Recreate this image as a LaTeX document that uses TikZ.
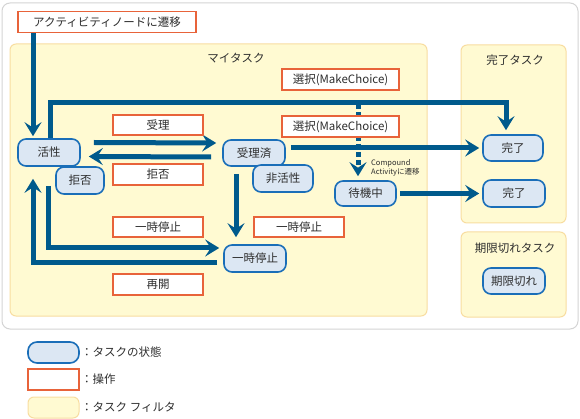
\documentclass[tikz,border=0pt]{standalone}
\usepackage{fontspec}
\setmainfont{Noto Sans CJK JP}
\usetikzlibrary{arrows.meta,calc}
\definecolor{arrowc}{HTML}{005A8C}
\definecolor{stfill}{HTML}{DCE7F3}
\definecolor{stdraw}{HTML}{1A6EB8}
\definecolor{opdraw}{HTML}{E8633A}
\definecolor{yfill}{HTML}{FFFAD2}
\definecolor{ydraw}{HTML}{F8DDA0}
\definecolor{gdraw}{HTML}{D4D4D4}
\definecolor{txt}{HTML}{2E2E2E}
\begin{document}
\begin{tikzpicture}[x=1pt,y=-1pt,
 every node/.style={text=txt},
 state/.style={draw=stdraw,fill=stfill,line width=1.6pt,rounded corners=8pt,minimum height=26pt,minimum width=62pt,inner sep=0pt,font=\fontsize{11.5}{12}\selectfont},
 op/.style={draw=opdraw,fill=white,line width=1.6pt,minimum height=20pt,minimum width=90pt,inner sep=0pt,font=\fontsize{11.5}{12}\selectfont},
 area/.style={draw=ydraw,fill=yfill,line width=1pt,rounded corners=6pt},
 arealabel/.style={font=\fontsize{11.5}{12}\selectfont,inner sep=0pt},
 flow/.style={draw=arrowc,line width=5pt,-{Stealth[length=14pt,width=17pt,inset=5.5pt]}},
 legtext/.style={font=\fontsize{11.5}{12}\selectfont,inner sep=0pt,anchor=west},
 ]
\useasboundingbox (0,0) rectangle (580,419);
% backgrounds
\draw[gdraw,fill=white,line width=1pt,rounded corners=8pt] (2,3) rectangle (578,329);
\draw[area] (10,44) rectangle (427,316);
\draw[area] (461,45) rectangle (566,223);
\draw[area] (461,232) rectangle (566,317);
\node[arealabel] (mytask) at (236,58) {マイタスク};
\node[arealabel] (donetask) at (515,60) {完了タスク};
\node[arealabel] (exptask) at (515,248) {期限切れタスク};
% states
\node[state,minimum height=27pt] (act) at (49,152.5) {活性};
\node[state,minimum width=48pt,minimum height=27pt] (rej) at (80,180.5) {拒否};
\node[state] (acc) at (254,153) {受理済};
\node[state,minimum width=60pt,minimum height=27pt] (inact) at (283,178.5) {非活性};
\node[state,minimum width=61pt,minimum height=25pt] (wait) at (365.5,193.5) {待機中};
\node[state,minimum width=60pt] (done1) at (513,148) {完了};
\node[state,minimum height=27pt] (done2) at (514,193.5) {完了};
\node[state,minimum height=27pt] (paused) at (255,258.5) {一時停止};
\node[state] (expired) at (514,281) {期限切れ};
\node[op,minimum width=178pt,minimum height=21pt] (start) at (107,22) {アクティビティノードに遷移};
% arrows
\draw[flow,shorten >=2pt] ([xshift=-74pt]start.south) -- ([xshift=-16pt]act.north);
\draw[flow,shorten >=4pt] ([xshift=1pt]act.north) -- ++(0,-36) -| ([xshift=-7pt]done1.north);
\draw[flow] ([xshift=13pt,yshift=10pt]act.east) -- ([xshift=-6pt,yshift=10pt]acc.west);
\draw[flow] ([xshift=-11pt,yshift=-4pt]acc.west) -- ([xshift=8pt,yshift=-4pt]act.east);
\draw[flow,shorten >=3pt] ($(acc.east |- done1.west)+(5,0)$) -- (done1.west);
\draw[flow,shorten >=3pt] ([xshift=3pt]wait.east) -- (done2.west);
\draw[flow,shorten >=7pt] ([xshift=-18pt,yshift=-7pt]acc.south) -- ([xshift=-19pt]paused.north);
\draw[flow,shorten >=4pt] ([xshift=-1pt,yshift=-19pt]act.south) |- ([yshift=10.5pt]paused.west);
\draw[flow,shorten >=12pt] ([xshift=-6pt,yshift=-4.5pt]paused.west) -| ([xshift=-16pt]act.south);
\coordinate (chs) at (358,104);
\draw[flow,dash pattern=on 5pt off 3pt,shorten >=4pt] (chs) -- ([xshift=-7.5pt]wait.north);
% operations
\node[op] (opacc) at (158,125) {受理};
\node[op,minimum height=21pt] (oprej) at (158,174.5) {拒否};
\node[op] (oppause1) at (158,227) {一時停止};
\node[op] (oppause2) at (299,227) {一時停止};
\node[op,minimum height=21pt] (opresume) at (158,284.5) {再開};
\node[op,minimum width=117pt,minimum height=21pt] (opchoice1) at (340.5,79.5) {選択(MakeChoice)};
\node[op,minimum width=117pt,minimum height=21pt] (opchoice2) at (340.5,126.5) {選択(MakeChoice)};
\node[font=\fontsize{7.5}{8.5}\selectfont,inner sep=0pt,anchor=west,align=left] (compound) at (371,168) {Compound\\Activityに遷移};
% legend
\node[state,minimum width=51pt,minimum height=21pt,rounded corners=9pt] (legstate) at (53.5,352.5) {};
\node[legtext] (legstatetext) at (81,352.5) {：タスクの状態};
\node[op,minimum width=51pt,minimum height=21pt] (legop) at (53.5,379.5) {};
\node[legtext] (legoptext) at (81,379.5) {：操作};
\draw[area] (28,397) rectangle (79,418);
\node[legtext] (legareatext) at (81,407.5) {：タスク フィルタ};
\end{tikzpicture}
\end{document}
